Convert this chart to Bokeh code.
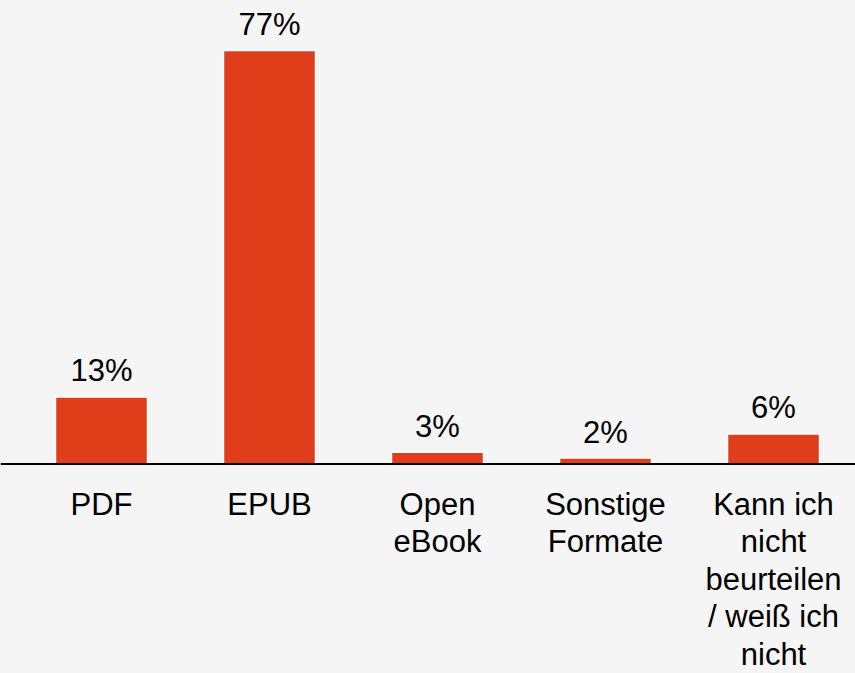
from bokeh.plotting import figure
from bokeh.models import ColumnDataSource, Span, Range1d
from bokeh.core.properties import value
from bokeh.embed import file_html
from bokeh.resources import INLINE

categories = ["PDF", "EPUB", "Open\neBook", "Sonstige\nFormate",
              "Kann ich\nnicht\nbeurteilen\n/ weiß ich\nnicht"]
shares = [12.5, 77.0, 2.2, 1.1, 5.6]
share_labels = ["13%", "77%", "3%", "2%", "6%"]

BG = "#f5f5f5"
RED = "#e03d1b"
FONT = "Liberation Sans"

xs = list(range(len(categories)))
src = ColumnDataSource(dict(x=xs, top=shares, lab=share_labels, cat=categories))

W, H = 855, 673
PX_X = 168.0   # pixels per category
PX_Y = 5.37    # pixels per percent
X0 = 101.0     # pixel position of first category centre
Y0 = 463.5     # pixel position of the baseline

p = figure(width=W, height=H, output_backend="svg", toolbar_location=None,
           x_range=Range1d(-X0 / PX_X, (W - X0) / PX_X),
           y_range=Range1d(-(H - Y0) / PX_Y, Y0 / PX_Y),
           min_border=0, background_fill_color=BG, border_fill_color=BG,
           outline_line_color=None)
p.axis.visible = False
p.grid.visible = False

p.vbar(x="x", top="top", bottom=0, width=92 / PX_X, source=src,
       fill_color=RED, line_color="white", line_width=1.5)

p.add_layout(Span(location=0, dimension="width", line_color="black", line_width=2))

p.text(x="x", y="top", text="lab", source=src, text_align="center",
       text_baseline="alphabetic", y_offset=-26, text_font=value(FONT),
       text_font_size="31px", text_color="black")

p.text(x="x", y=0, text="cat", source=src, text_align="center",
       text_baseline="top", y_offset=23, text_font=value(FONT),
       text_font_size="31px", text_color="black", text_line_height=1.07)

html = file_html(p, INLINE)
html = html.replace("<head>", "<head><style>html,body{background:%s;}</style>" % BG, 1)
open("out.html", "w").write(html)
